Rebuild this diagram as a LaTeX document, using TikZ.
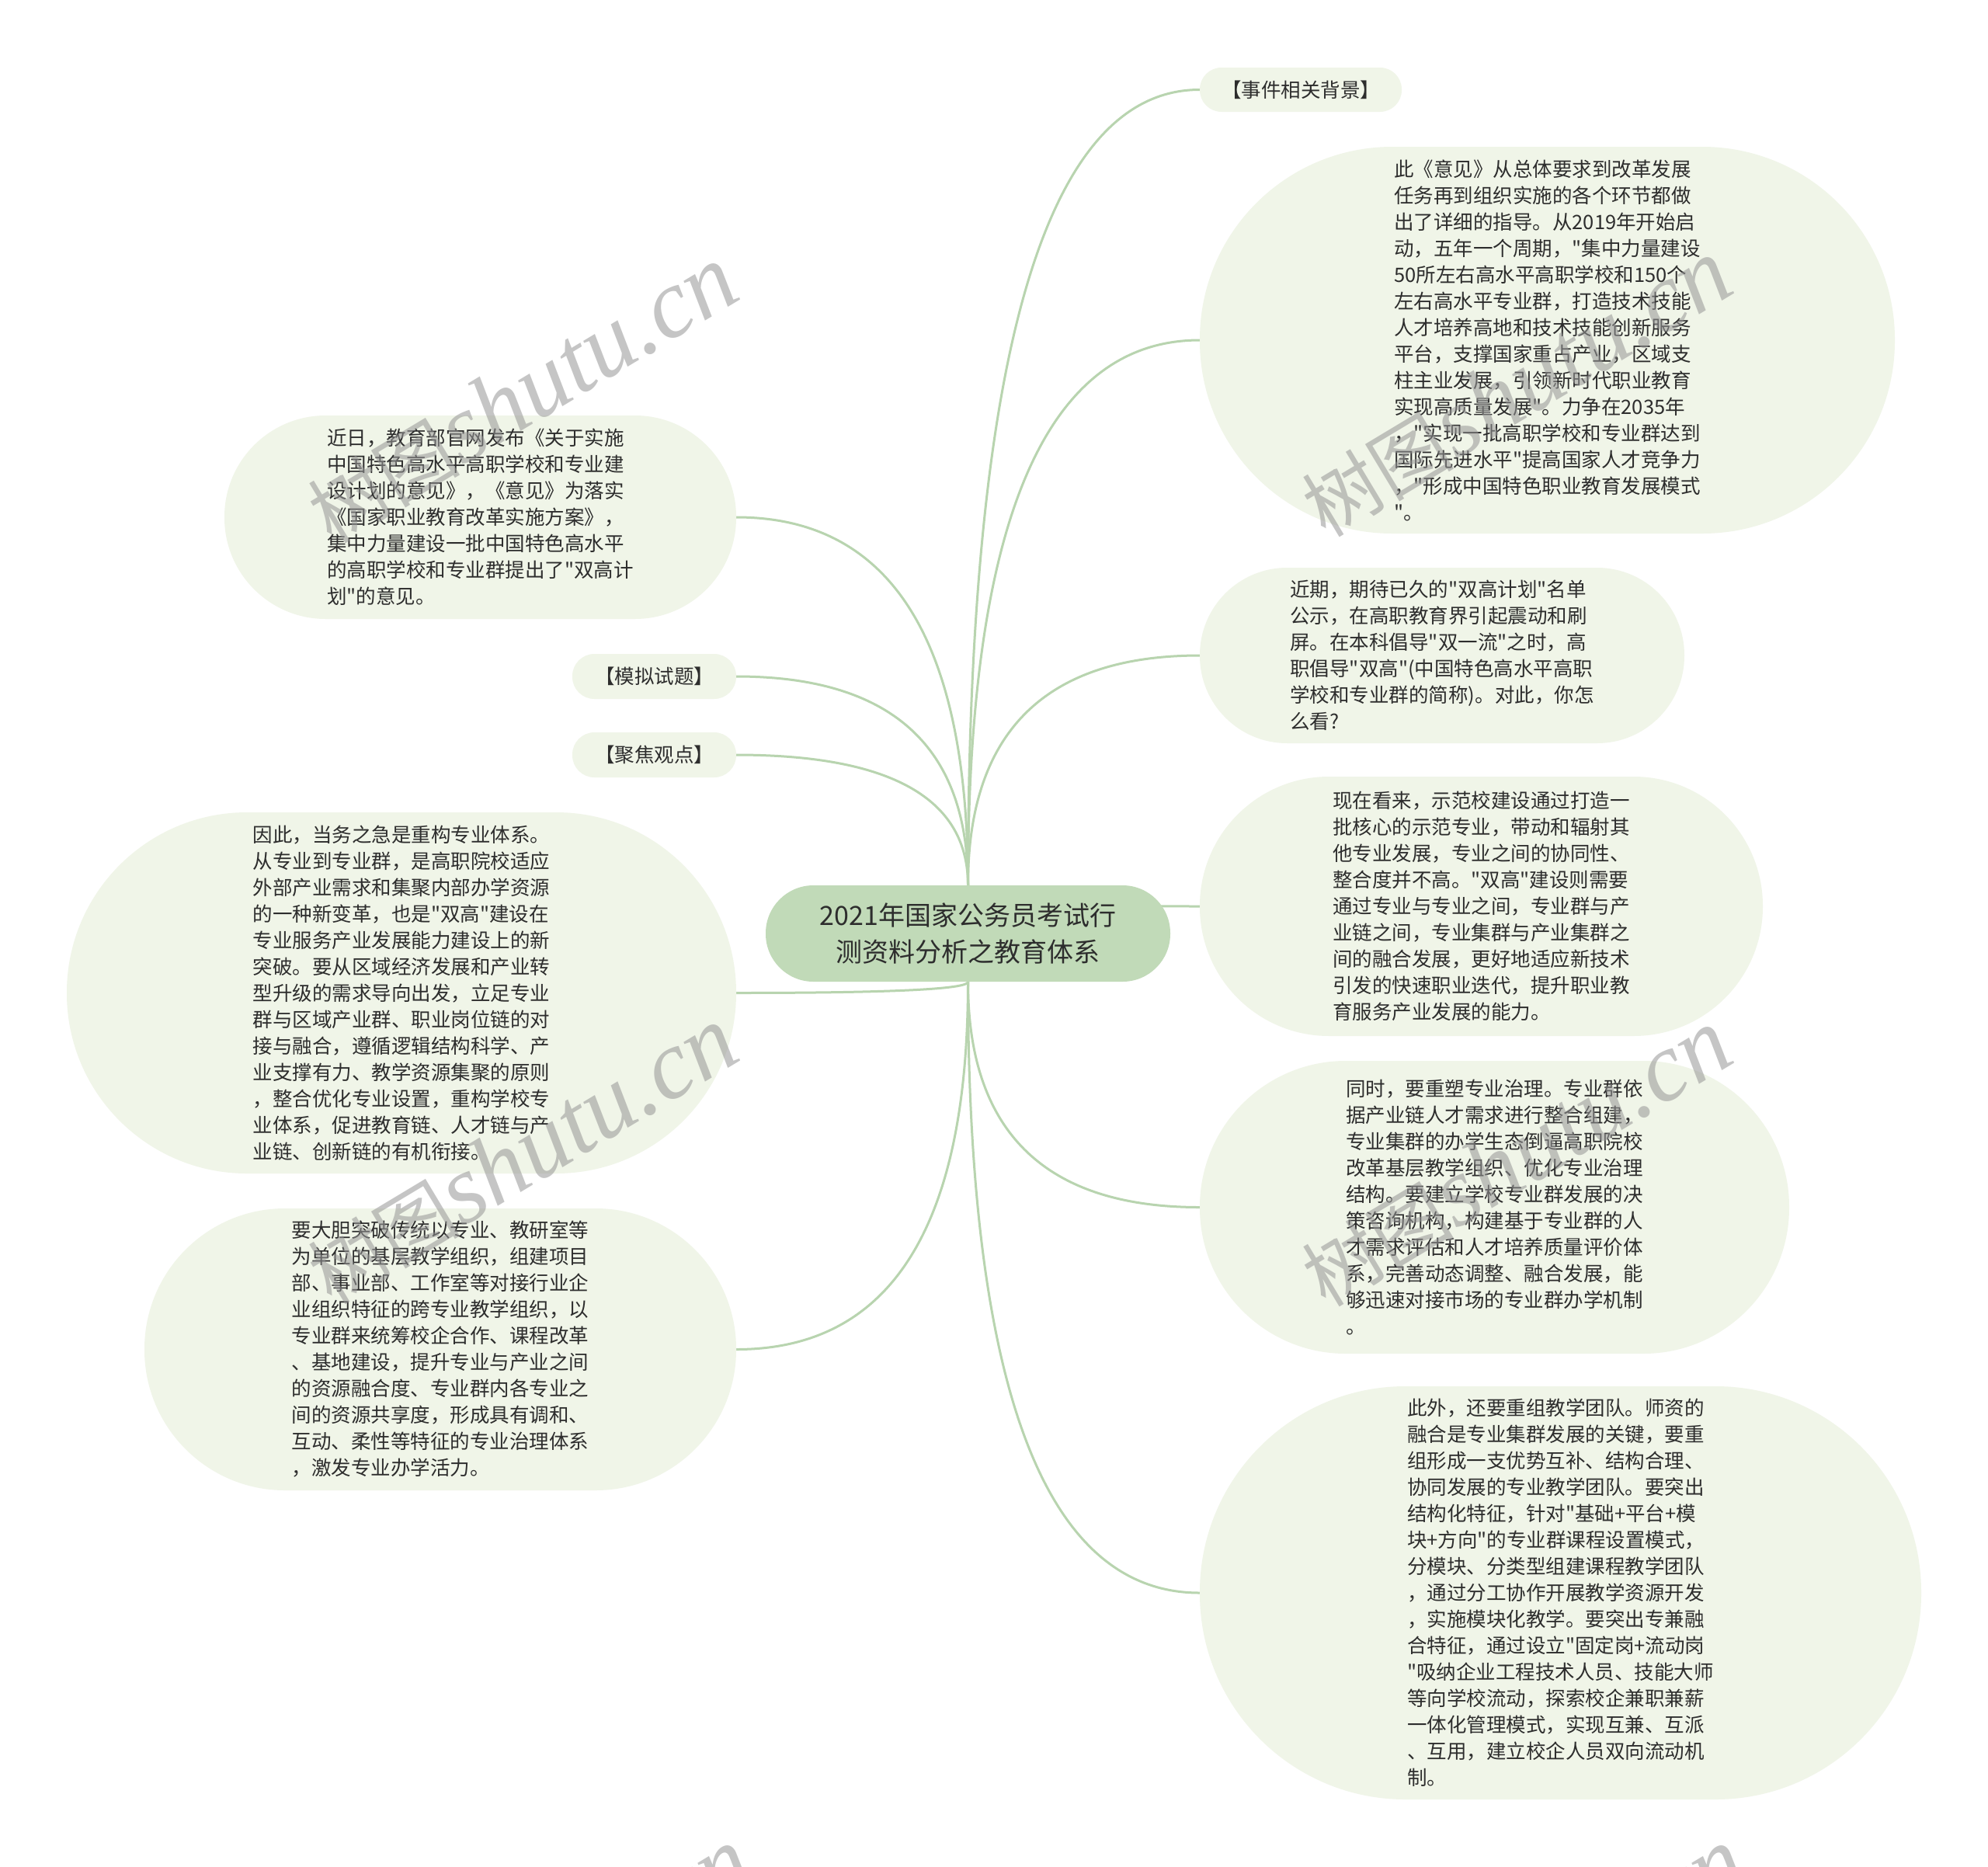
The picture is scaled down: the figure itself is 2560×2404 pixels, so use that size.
\documentclass[tikz,border=0pt]{standalone}
\usepackage{fontspec}
\setmainfont{Noto Sans CJK SC}[Ligatures=TeXOff]
\newfontfamily\wmlatin{Liberation Serif}[Ligatures=TeXOff]
\usetikzlibrary{calc,backgrounds}
\definecolor{leaffill}{RGB}{240,245,232}
\definecolor{rootfill}{RGB}{193,218,184}
\definecolor{edgecol}{RGB}{184,212,175}
\definecolor{txtcol}{RGB}{45,45,45}
\definecolor{wmcol}{RGB}{150,150,150}
\tikzset{
  leaf/.style={fill=leaffill, draw=none, inner sep=0pt, align=left, text=txtcol,
    font=\fontsize{25.5}{34}\selectfont},
  rootbox/.style={fill=rootfill, draw=none, inner sep=0pt, align=center, text=txtcol,
    font=\fontsize{34}{47}\selectfont},
  link/.style={draw=edgecol, line width=3pt},
  wmark/.style={text=wmcol, opacity=0.55, rotate=31, inner sep=0pt}
}
\newcommand\mmlink[3]{%
  \coordinate (tmpc) at (#1 |- #2.#3);
  \draw[link] (#1) .. controls ($(#1)!0.6667!(tmpc)$) and ($(#2.#3)!0.6667!(tmpc)$) .. (#2.#3);
}
\newcommand\wmtext{{\fontsize{98}{98}\selectfont 树图}{\wmlatin\itshape\fontsize{126}{126}\selectfont shutu.cn}}
\begin{document}
\begin{tikzpicture}[x=1pt,y=-1pt]
\useasboundingbox (0,0) rectangle (2560,2404);

\node[rootbox, minimum width=521pt, minimum height=124pt, rounded corners=61.5pt] (root) at (1246.5,1202)
  {2021年国家公务员考试行\\测资料分析之教育体系};

\node[leaf, minimum width=260pt, minimum height=57pt, rounded corners=28pt] (R1) at (1675,115.5) {【事件相关背景】};

\node[leaf, minimum width=895pt, minimum height=498pt, rounded corners=248pt] (R2) at (1992.5,438) {%
此《意见》从总体要求到改革发展\\
任务再到组织实施的各个环节都做\\
出了详细的指导。从2019年开始启\\
动，五年一个周期，"集中力量建设\\
50所左右高水平高职学校和150个\\
左右高水平专业群，打造技术技能\\
人才培养高地和技术技能创新服务\\
平台，支撑国家重占产业，区域支\\
柱主业发展，引领新时代职业教育\\
实现高质量发展"。力争在2035年\\
，"实现一批高职学校和专业群达到\\
国际先进水平"提高国家人才竞争力\\
，"形成中国特色职业教育发展模式\\
"。};

\node[leaf, minimum width=624pt, minimum height=226pt, rounded corners=112.5pt] (R3) at (1857,844) {%
近期，期待已久的"双高计划"名单\\
公示，在高职教育界引起震动和刷\\
屏。在本科倡导"双一流"之时，高\\
职倡导"双高"(中国特色高水平高职\\
学校和专业群的简称)。对此，你怎\\
么看?};

\node[leaf, minimum width=725pt, minimum height=334pt, rounded corners=166.5pt] (R4) at (1907.5,1167) {%
现在看来，示范校建设通过打造一\\
批核心的示范专业，带动和辐射其\\
他专业发展，专业之间的协同性、\\
整合度并不高。"双高"建设则需要\\
通过专业与专业之间，专业群与产\\
业链之间，专业集群与产业集群之\\
间的融合发展，更好地适应新技术\\
引发的快速职业迭代，提升职业教\\
育服务产业发展的能力。};

\node[leaf, minimum width=759pt, minimum height=377pt, rounded corners=188pt] (R5) at (1924.5,1554.5) {%
同时，要重塑专业治理。专业群依\\
据产业链人才需求进行整合组建，\\
专业集群的办学生态倒逼高职院校\\
改革基层教学组织、优化专业治理\\
结构。要建立学校专业群发展的决\\
策咨询机构，构建基于专业群的人\\
才需求评估和人才培养质量评价体\\
系，完善动态调整、融合发展，能\\
够迅速对接市场的专业群办学机制\\
。};

\node[leaf, minimum width=929pt, minimum height=532pt, rounded corners=265pt] (R6) at (2009.5,2051) {%
此外，还要重组教学团队。师资的\\
融合是专业集群发展的关键，要重\\
组形成一支优势互补、结构合理、\\
协同发展的专业教学团队。要突出\\
结构化特征，针对"基础+平台+模\\
块+方向"的专业群课程设置模式，\\
分模块、分类型组建课程教学团队\\
，通过分工协作开展教学资源开发\\
，实施模块化教学。要突出专兼融\\
合特征，通过设立"固定岗+流动岗\\
"吸纳企业工程技术人员、技能大师\\
等向学校流动，探索校企兼职兼薪\\
一体化管理模式，实现互兼、互派\\
、互用，建立校企人员双向流动机\\
制。};

\node[leaf, minimum width=659pt, minimum height=262pt, rounded corners=130.5pt] (L1) at (618.5,666) {%
近日，教育部官网发布《关于实施\\
中国特色高水平高职学校和专业建\\
设计划的意见》，《意见》为落实\\
《国家职业教育改革实施方案》，\\
集中力量建设一批中国特色高水平\\
的高职学校和专业群提出了"双高计\\
划"的意见。};

\node[leaf, minimum width=211pt, minimum height=58pt, rounded corners=28.5pt] (L2) at (842.5,871) {【模拟试题】};
\node[leaf, minimum width=211pt, minimum height=58pt, rounded corners=28.5pt] (L3) at (842.5,972) {【聚焦观点】};

\node[leaf, minimum width=862pt, minimum height=465pt, rounded corners=232pt] (L4) at (517,1278.5) {%
因此，当务之急是重构专业体系。\\
从专业到专业群，是高职院校适应\\
外部产业需求和集聚内部办学资源\\
的一种新变革，也是"双高"建设在\\
专业服务产业发展能力建设上的新\\
突破。要从区域经济发展和产业转\\
型升级的需求导向出发，立足专业\\
群与区域产业群、职业岗位链的对\\
接与融合，遵循逻辑结构科学、产\\
业支撑有力、教学资源集聚的原则\\
，整合优化专业设置，重构学校专\\
业体系，促进教育链、人才链与产\\
业链、创新链的有机衔接。};

\node[leaf, minimum width=762pt, minimum height=363pt, rounded corners=181pt] (L5) at (567,1737.5) {%
要大胆突破传统以专业、教研室等\\
为单位的基层教学组织，组建项目\\
部、事业部、工作室等对接行业企\\
业组织特征的跨专业教学组织，以\\
专业群来统筹校企合作、课程改革\\
、基地建设，提升专业与产业之间\\
的资源融合度、专业群内各专业之\\
间的资源共享度，形成具有调和、\\
互动、柔性等特征的专业治理体系\\
，激发专业办学活力。};

\begin{scope}[on background layer]
\fill[white] (0,0) rectangle (2560,2404);
\mmlink{root.north}{R1}{west}
\mmlink{root.north}{R2}{west}
\mmlink{root.north}{R3}{west}
\mmlink{root.north}{R4}{west}
\mmlink{root.south}{R5}{west}
\mmlink{root.south}{R6}{west}
\mmlink{root.north}{L1}{east}
\mmlink{root.north}{L2}{east}
\mmlink{root.north}{L3}{east}
\mmlink{root.south}{L4}{east}
\mmlink{root.south}{L5}{east}
\end{scope}

\node[wmark] (wm1) at (672,508) {\wmtext};
\node[wmark] (wm2) at (1952,500) {\wmtext};
\node[wmark] (wm3) at (672,1488) {\wmtext};
\node[wmark] (wm4) at (1952,1491) {\wmtext};
\node[wmark] (wm5) at (690,2545) {\wmtext};
\node[wmark] (wm6) at (1970,2545) {\wmtext};
\end{tikzpicture}
\end{document}
